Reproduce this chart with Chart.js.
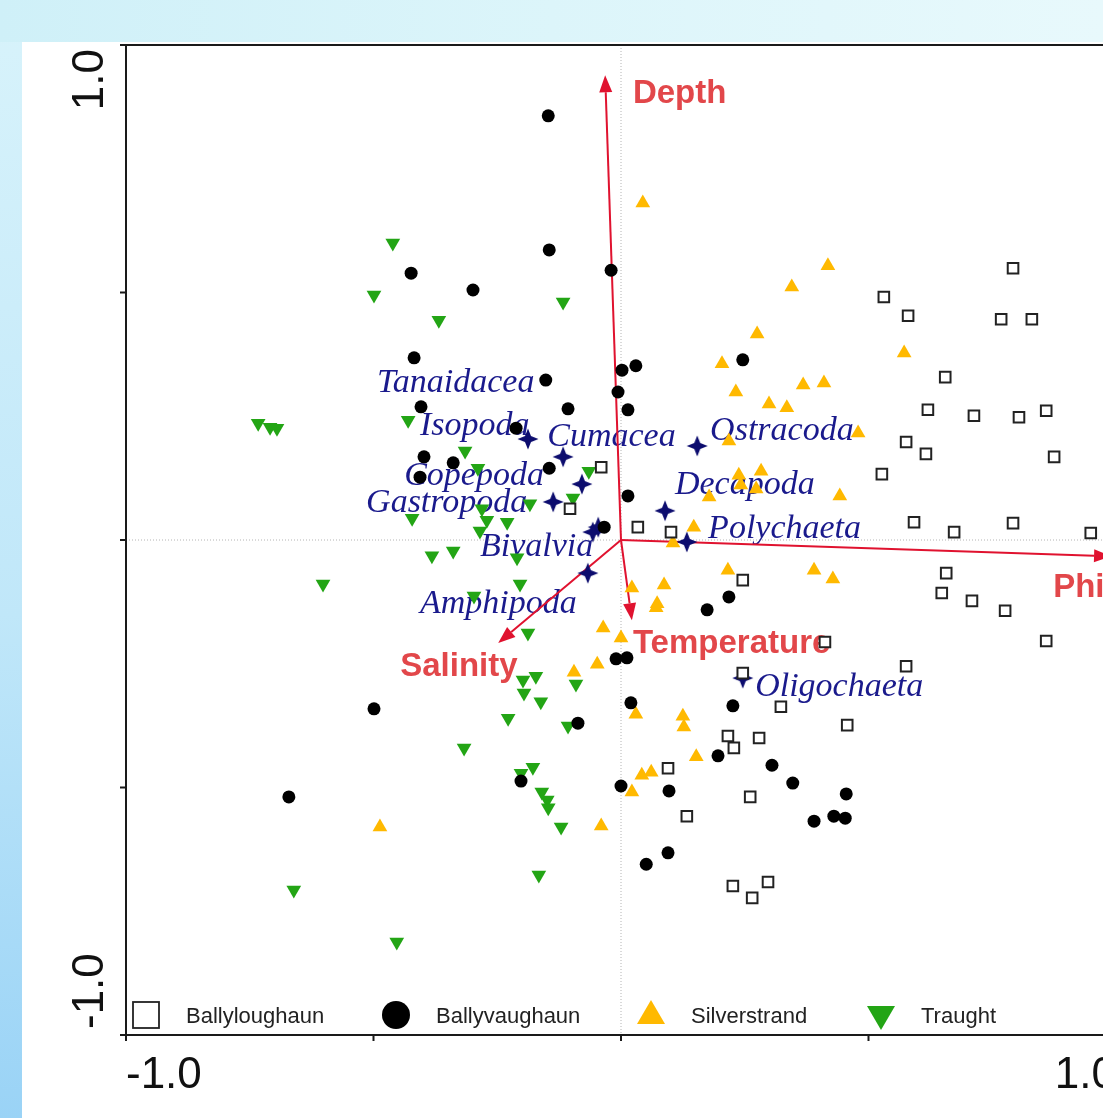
<!DOCTYPE html>
<html lang="en">
<head>
<meta charset="UTF-8">
<title>CCA biplot</title>
<script src="https://cdn.jsdelivr.net/npm/chart.js@4.4.0/dist/chart.umd.min.js"></script>
<style>
    * { margin: 0; padding: 0; box-sizing: border-box; }
    html, body { width: 1103px; height: 1118px; overflow: hidden; }
    body {
        position: relative;
        background: linear-gradient(180deg, #d8f3fb 0%, #c0e7f9 55%, #9ad3f6 100%);
    }
    .topband {
        position: absolute; left: 0; top: 0; width: 100%; height: 42px;
        background: linear-gradient(90deg, #cff0f8 0%, #dcf5fa 50%, #e8f9fc 100%);
    }
    .panel { position: absolute; left: 22px; top: 42px; right: 0; bottom: 0; background: #fff; }
    #chart { position: absolute; left: 0; top: 0; }
</style>
</head>
<body>
<div class="topband"></div>
<div class="panel"></div>
<canvas id="chart" width="1200" height="1118"></canvas>

<script>
// site scores [axis1, axis2]
const ballyloughaun = [
    [0.792, 0.549], [0.531, 0.491], [0.580, 0.453], [0.768, 0.446], [0.830, 0.446],
    [0.655, 0.329], [0.620, 0.263], [0.713, 0.251], [0.804, 0.248], [0.859, 0.261],
    [0.576, 0.198], [0.616, 0.174], [0.875, 0.168], [0.527, 0.133], [-0.040, 0.147],
    [-0.103, 0.063], [0.034, 0.026], [0.101, 0.016], [0.592, 0.036], [0.673, 0.016],
    [0.792, 0.034], [0.949, 0.014], [0.246, -0.081], [0.657, -0.067], [0.648, -0.107],
    [0.709, -0.123], [0.776, -0.143], [0.859, -0.204], [0.412, -0.206], [0.576, -0.255],
    [0.246, -0.269], [0.323, -0.337], [0.457, -0.374], [0.216, -0.396], [0.279, -0.400],
    [0.228, -0.420], [0.095, -0.461], [0.261, -0.519], [0.133, -0.558], [0.226, -0.699],
    [0.265, -0.723], [0.297, -0.691]
];
const ballyvaughaun = [
    [-0.147, 0.857], [-0.145, 0.586], [-0.020, 0.545], [-0.424, 0.539], [-0.299, 0.505],
    [-0.418, 0.368], [0.246, 0.364], [0.002, 0.343], [0.030, 0.352], [-0.152, 0.323],
    [-0.006, 0.299], [-0.404, 0.269], [-0.107, 0.265], [0.014, 0.263], [-0.212, 0.226],
    [-0.398, 0.168], [-0.339, 0.156], [-0.406, 0.127], [-0.145, 0.145], [0.014, 0.089],
    [-0.034, 0.026], [0.174, -0.141], [0.218, -0.115], [-0.010, -0.240], [0.012, -0.238],
    [0.020, -0.329], [0.226, -0.335], [0.196, -0.436], [0.305, -0.455], [0.347, -0.491],
    [0.455, -0.513], [0.390, -0.568], [0.430, -0.558], [0.453, -0.562], [0.000, -0.497],
    [0.097, -0.507], [0.095, -0.632], [0.051, -0.655], [-0.087, -0.370], [-0.202, -0.487],
    [-0.499, -0.341], [-0.671, -0.519]
];
const silverstrand = [
    [0.044, 0.681], [0.418, 0.554], [0.345, 0.511], [0.275, 0.416], [0.572, 0.378],
    [0.204, 0.356], [0.232, 0.299], [0.368, 0.313], [0.410, 0.317], [0.299, 0.275],
    [0.335, 0.267], [0.479, 0.216], [0.218, 0.200], [0.238, 0.131], [0.283, 0.139],
    [0.242, 0.111], [0.273, 0.103], [0.178, 0.087], [0.442, 0.089], [0.147, 0.026],
    [0.105, -0.006], [0.216, -0.061], [0.390, -0.061], [0.428, -0.079], [0.022, -0.097],
    [0.087, -0.091], [0.073, -0.129], [0.071, -0.137], [-0.036, -0.178], [0.000, -0.198],
    [-0.048, -0.251], [-0.095, -0.267], [0.030, -0.352], [0.125, -0.356], [0.127, -0.378],
    [0.152, -0.438], [0.042, -0.475], [0.061, -0.469], [0.022, -0.509], [-0.040, -0.578],
    [-0.487, -0.580]
];
const traught = [
    [-0.461, 0.600], [-0.499, 0.495], [-0.368, 0.444], [-0.117, 0.481], [-0.733, 0.236],
    [-0.709, 0.228], [-0.695, 0.226], [-0.430, 0.242], [-0.315, 0.180], [-0.289, 0.145],
    [-0.065, 0.139], [-0.097, 0.085], [-0.184, 0.073], [-0.422, 0.044], [-0.281, 0.063],
    [-0.271, 0.040], [-0.285, 0.018], [-0.230, 0.036], [-0.382, -0.032], [-0.339, -0.022],
    [-0.210, -0.036], [-0.602, -0.089], [-0.204, -0.089], [-0.297, -0.113], [-0.188, -0.188],
    [-0.198, -0.283], [-0.172, -0.275], [-0.196, -0.309], [-0.162, -0.327], [-0.091, -0.291],
    [-0.228, -0.360], [-0.107, -0.376], [-0.317, -0.420], [-0.178, -0.459], [-0.202, -0.471],
    [-0.160, -0.509], [-0.149, -0.525], [-0.147, -0.541], [-0.121, -0.580], [-0.166, -0.677],
    [-0.661, -0.707], [-0.453, -0.812]
];

// species scores and where their names sit (left edge, baseline)
const speciesNames = ['Tanaidacea', 'Isopoda', 'Cumacea', 'Ostracoda', 'Copepoda', 'Decapoda',
    'Gastropoda', 'Polychaeta', 'Bivalvia', 'Amphipoda', 'Oligochaeta'];
const speciesScores = [
    [-0.046, 0.026], [-0.188, 0.204], [-0.117, 0.168], [0.154, 0.190], [-0.079, 0.113], [0.089, 0.059],
    [-0.137, 0.077], [0.133, -0.004], [-0.057, 0.016], [-0.067, -0.067], [0.246, -0.279]
];
const speciesLabelAt = [
    [-0.493, 0.299], [-0.406, 0.212], [-0.149, 0.190], [0.180, 0.202], [-0.438, 0.111], [0.109, 0.093],
    [-0.515, 0.057], [0.176, 0.004], [-0.285, -0.032], [-0.406, -0.147], [0.271, -0.315]
];

// environmental variables
const envNames = ['Depth', 'Phi', 'Temperature', 'Salinity'];
const envVectors = [[-0.032, 0.939], [0.990, -0.033], [0.022, -0.162], [-0.248, -0.208]];
const envLabelAt = [[0.024, 0.883], [0.873, -0.115], [0.024, -0.228], [-0.446, -0.275]];

// axes
const tickValues = [-1, -0.5, 0, 0.5, 1];
const xTickLabels = ['-1.0', '', '', '', '1.0'];
const yTickLabels = ['-1.0', '', '', '', '1.0'];

const siteNames = ['Ballyloughaun', 'Ballyvaughaun', 'Silverstrand', 'Traught'];

const toXY = arr => arr.map(p => ({ x: p[0], y: p[1] }));

// four-pointed star marker for species
const star = document.createElement('canvas');
star.width = 22; star.height = 22;
(function () {
    const s = star.getContext('2d');
    s.fillStyle = '#0c0c6e';
    s.beginPath();
    s.moveTo(11, 0.5); s.lineTo(14, 8); s.lineTo(21.5, 11); s.lineTo(14, 14);
    s.lineTo(11, 21.5); s.lineTo(8, 14); s.lineTo(0.5, 11); s.lineTo(8, 8);
    s.closePath();
    s.fill();
})();

function drawArrow(ctx, x1, y1, x2, y2, color) {
    const ang = Math.atan2(y2 - y1, x2 - x1);
    const len = 17, half = 6.5;
    const bx = x2 - Math.cos(ang) * len, by = y2 - Math.sin(ang) * len;
    ctx.strokeStyle = color;
    ctx.fillStyle = color;
    ctx.lineWidth = 2;
    ctx.beginPath();
    ctx.moveTo(x1, y1);
    ctx.lineTo(bx, by);
    ctx.stroke();
    ctx.beginPath();
    ctx.moveTo(x2, y2);
    ctx.lineTo(bx + Math.sin(ang) * half, by - Math.cos(ang) * half);
    ctx.lineTo(bx - Math.sin(ang) * half, by + Math.cos(ang) * half);
    ctx.closePath();
    ctx.fill();
}

const biplotDecor = {
    id: 'biplotDecor',
    beforeDatasetsDraw(chart) {
        const { ctx, chartArea: a, scales: { x, y } } = chart;
        const x0 = x.getPixelForValue(0), y0 = y.getPixelForValue(0);
        ctx.save();

        // dotted zero lines
        ctx.strokeStyle = '#b4b4b4';
        ctx.lineWidth = 1;
        ctx.setLineDash([1, 2]);
        ctx.beginPath();
        ctx.moveTo(x0, a.top); ctx.lineTo(x0, a.bottom);
        ctx.moveTo(a.left, y0); ctx.lineTo(a.right, y0);
        ctx.stroke();
        ctx.setLineDash([]);

        // species names
        ctx.font = 'italic 34px "Liberation Serif", "Times New Roman", serif';
        ctx.fillStyle = '#1a1a8c';
        ctx.textBaseline = 'alphabetic';
        ctx.textAlign = 'left';
        speciesNames.forEach((n, i) => {
            ctx.fillText(n, x.getPixelForValue(speciesLabelAt[i][0]), y.getPixelForValue(speciesLabelAt[i][1]));
        });

        // environmental arrows
        envVectors.forEach(v => {
            drawArrow(ctx, x0, y0, x.getPixelForValue(v[0]), y.getPixelForValue(v[1]), '#e0122f');
        });
        ctx.font = 'bold 33px "Liberation Sans", Arial, sans-serif';
        ctx.fillStyle = '#e2474a';
        envNames.forEach((n, i) => {
            ctx.fillText(n, x.getPixelForValue(envLabelAt[i][0]), y.getPixelForValue(envLabelAt[i][1]));
        });
        ctx.restore();
    },
    afterDatasetsDraw(chart) {
        const { ctx, chartArea: a, scales: { x, y } } = chart;
        ctx.save();

        // frame
        ctx.strokeStyle = '#1a1a1a';
        ctx.lineWidth = 2;
        ctx.strokeRect(a.left, a.top, a.right - a.left, a.bottom - a.top);

        // ticks
        ctx.beginPath();
        tickValues.forEach(v => {
            const px = x.getPixelForValue(v);
            ctx.moveTo(px, a.bottom); ctx.lineTo(px, a.bottom + 6);
            const py = y.getPixelForValue(v);
            ctx.moveTo(a.left - 6, py); ctx.lineTo(a.left, py);
        });
        ctx.stroke();

        // tick labels
        ctx.fillStyle = '#111';
        ctx.font = '44px "Liberation Sans", Arial, sans-serif';
        ctx.textBaseline = 'alphabetic';
        tickValues.forEach((v, i) => {
            if (!xTickLabels[i]) return;
            ctx.textAlign = i === 0 ? 'left' : 'right';
            ctx.fillText(xTickLabels[i], x.getPixelForValue(v), 1088);
        });
        tickValues.forEach((v, i) => {
            if (!yTickLabels[i]) return;
            ctx.save();
            ctx.translate(103, y.getPixelForValue(v));
            ctx.rotate(-Math.PI / 2);
            ctx.textAlign = i === 0 ? 'left' : 'right';
            ctx.fillText(yTickLabels[i], i === 0 ? 6 : -4, 0);
            ctx.restore();
        });

        // legend inside the plot
        const ly = 1015;
        const lx = [146, 396, 651, 881];
        ctx.lineWidth = 1.8;
        ctx.strokeStyle = '#222';
        ctx.fillStyle = '#fff';
        ctx.fillRect(lx[0] - 13, ly - 13, 26, 26);
        ctx.strokeRect(lx[0] - 13, ly - 13, 26, 26);
        ctx.fillStyle = '#000';
        ctx.beginPath(); ctx.arc(lx[1], ly, 14, 0, Math.PI * 2); ctx.fill();
        ctx.fillStyle = '#ffb900';
        ctx.beginPath();
        ctx.moveTo(lx[2], ly - 15); ctx.lineTo(lx[2] + 14, ly + 9); ctx.lineTo(lx[2] - 14, ly + 9);
        ctx.closePath(); ctx.fill();
        ctx.fillStyle = '#23a515';
        ctx.beginPath();
        ctx.moveTo(lx[3], ly + 15); ctx.lineTo(lx[3] + 14, ly - 9); ctx.lineTo(lx[3] - 14, ly - 9);
        ctx.closePath(); ctx.fill();

        ctx.fillStyle = '#222';
        ctx.font = '22px "Liberation Sans", Arial, sans-serif';
        ctx.textAlign = 'left';
        siteNames.forEach((n, i) => ctx.fillText(n, lx[i] + 40, ly + 8));
        ctx.restore();
    }
};

new Chart(document.getElementById('chart'), {
    type: 'scatter',
    data: {
        datasets: [
            {
                label: siteNames[0], data: toXY(ballyloughaun), order: 1,
                pointStyle: 'rect', pointRadius: 7.5, backgroundColor: '#fff',
                borderColor: '#222', borderWidth: 2
            },
            {
                label: siteNames[1], data: toXY(ballyvaughaun), order: 2,
                pointStyle: 'circle', pointRadius: 6.5, backgroundColor: '#000',
                borderColor: '#000', borderWidth: 0
            },
            {
                label: siteNames[2], data: toXY(silverstrand), order: 3,
                pointStyle: 'triangle', pointRadius: 8.5, backgroundColor: '#ffb900',
                borderColor: '#ffb900', borderWidth: 0
            },
            {
                label: siteNames[3], data: toXY(traught), order: 4,
                pointStyle: 'triangle', rotation: 180, pointRadius: 8.5, backgroundColor: '#23a515',
                borderColor: '#23a515', borderWidth: 0
            },
            {
                label: 'Species', data: toXY(speciesScores), order: 5,
                pointStyle: star, pointRadius: 10
            }
        ]
    },
    options: {
        responsive: false,
        animation: false,
        events: [],
        devicePixelRatio: 1,
        layout: { padding: { left: 126, top: 45, right: 84, bottom: 83 } },
        scales: {
            x: { type: 'linear', min: -1, max: 1, display: false },
            y: { type: 'linear', min: -1, max: 1, display: false }
        },
        plugins: {
            legend: { display: false },
            tooltip: { enabled: false }
        }
    },
    plugins: [biplotDecor]
});
</script>
</body>
</html>
